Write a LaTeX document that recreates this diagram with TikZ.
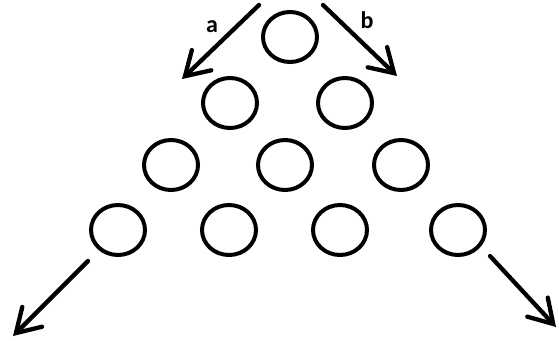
\documentclass[tikz,border=0pt]{standalone}
\usepackage{fontspec}
\setmainfont{Carlito}
\usetikzlibrary{arrows.meta,shapes.geometric}
\begin{document}
\begin{tikzpicture}[x=1pt,y=-1pt,
  ball/.style={draw=black,line width=4pt,ellipse,minimum width=54pt,minimum height=50pt,inner sep=0pt},
  arr/.style={draw=black,line width=4.3pt,line cap=round,-{Straight Barb[length=23pt,width=28pt,line cap=round]}},
  lbl/.style={font=\fontsize{24}{24}\selectfont\bfseries,anchor=base,inner sep=0pt}]
\useasboundingbox (0,0) rectangle (559,340);
\node[ball] (c1) at (290,37) {};
\node[ball] (c21) at (230,103) {};
\node[ball] (c22) at (345,103) {};
\node[ball] (c31) at (171,165) {};
\node[ball] (c32) at (285,165) {};
\node[ball] (c33) at (401,165) {};
\node[ball] (c41) at (118,230) {};
\node[ball] (c42) at (229,230) {};
\node[ball] (c43) at (340,230) {};
\node[ball] (c44) at (458,230) {};
\coordinate (as) at (259,5);
\coordinate (ae) at (182,79);
\coordinate (bs) at (323,5);
\coordinate (be) at (397,76);
\coordinate (ls) at (88,261);
\coordinate (le) at (13,336);
\coordinate (rs) at (490,256);
\coordinate (re) at (556,327);
\draw[arr] (as) -- (ae);
\draw[arr] (bs) -- (be);
\draw[arr] (ls) -- (le);
\draw[arr] (rs) -- (re);
\node[lbl] (la) at (212,32) {a};
\node[lbl] (lb) at (367,28) {b};
\end{tikzpicture}
\end{document}
